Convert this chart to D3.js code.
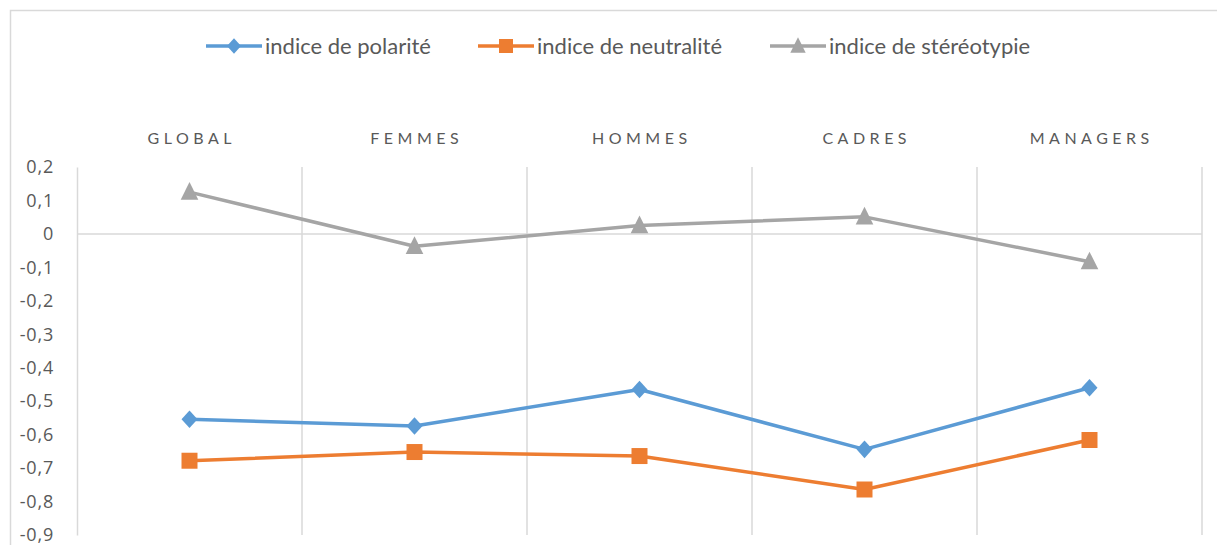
<!DOCTYPE html>
<html>
<head>
<meta charset="utf-8">
<script src="https://cdn.jsdelivr.net/npm/d3@7"></script>
<style>
  html, body { margin: 0; padding: 0; background: #fff; }
  svg { display: block; }
</style>
</head>
<body>
<div id="chart"></div>
<script>
// données
const categories = ['GLOBAL', 'FEMMES', 'HOMMES', 'CADRES', 'MANAGERS'];
const seriesNames = ['indice de polarité', 'indice de neutralité', 'indice de stéréotypie'];
const polarite = [-0.554, -0.574, -0.465, -0.644, -0.460];
const neutralite = [-0.678, -0.652, -0.664, -0.764, -0.616];
const stereotypie = [0.125, -0.037, 0.025, 0.051, -0.083];
const yTicks = [0.2, 0.1, 0, -0.1, -0.2, -0.3, -0.4, -0.5, -0.6, -0.7, -0.8, -0.9];

const width = 1217, height = 545;
const plot = { left: 77, right: 1202, top: 167, bottom: 535 };
const colors = ['#5b9bd5', '#ed7d31', '#a5a5a5'];
const shapes = ['diamond', 'square', 'triangle'];
const fontFamily = 'Lato, "Noto Sans", sans-serif';

const series = [polarite, neutralite, stereotypie].map((values, i) => ({
  name: seriesNames[i],
  values: values,
  color: colors[i],
  shape: shapes[i]
}));

const svg = d3.select('#chart').append('svg')
  .attr('width', width)
  .attr('height', height);

// cadre du graphique
svg.append('rect')
  .attr('x', 10.5).attr('y', 10.5)
  .attr('width', width + 20).attr('height', height + 20)
  .attr('fill', 'none')
  .attr('stroke', '#d9d9d9')
  .attr('stroke-width', 1.5);

const x = d3.scaleBand()
  .domain(categories)
  .range([plot.left, plot.right]);

const y = d3.scaleLinear()
  .domain([-0.9, 0.2])
  .range([plot.bottom, plot.top]);

const fr = d3.formatLocale({ decimal: ',', thousands: ' ', grouping: [3], currency: ['', ' €'], minus: '-' });
const fmt = fr.format('.1f');
const tickFmt = d => d === 0 ? '0' : fmt(d);

// axe vertical + graduations
const yAxis = svg.append('g')
  .attr('transform', `translate(${plot.left},0)`)
  .call(d3.axisLeft(y).tickValues(yTicks).tickFormat(tickFmt).tickSize(0).tickPadding(23));
yAxis.select('.domain').attr('stroke', '#d9d9d9').attr('stroke-width', 1.5);
yAxis.selectAll('text')
  .attr('fill', '#595959')
  .style('font-family', '"Open Sans", sans-serif')
  .style('font-size', '18px')
  .style('letter-spacing', '0.8px');

// quadrillage vertical (limites des catégories)
svg.append('g')
  .selectAll('line')
  .data(categories)
  .join('line')
  .attr('x1', d => x(d) + x.bandwidth())
  .attr('x2', d => x(d) + x.bandwidth())
  .attr('y1', plot.top)
  .attr('y2', plot.bottom)
  .attr('stroke', '#d9d9d9')
  .attr('stroke-width', 1.5);

// axe des catégories à 0
svg.append('line')
  .attr('x1', plot.left).attr('x2', plot.right)
  .attr('y1', y(0)).attr('y2', y(0))
  .attr('stroke', '#d9d9d9')
  .attr('stroke-width', 1.5);

// étiquettes des catégories en haut
svg.append('g')
  .selectAll('text')
  .data(categories)
  .join('text')
  .attr('x', d => x(d) + x.bandwidth() / 2 + 2.25)
  .attr('y', 144)
  .attr('text-anchor', 'middle')
  .attr('fill', '#595959')
  .style('font-family', fontFamily)
  .style('font-size', '16px')
  .style('letter-spacing', '4.5px')
  .text(d => d);

function markerPath(shape, s) {
  if (shape === 'diamond') {
    return `M0,${-s * 1.1}L${s},0L0,${s * 1.1}L${-s},0Z`;
  }
  if (shape === 'square') {
    return `M${-s},${-s}H${s}V${s}H${-s}Z`;
  }
  // triangle
  return `M0,${-s * 1.25}L${s * 1.1},${s * 0.95}L${-s * 1.1},${s * 0.95}Z`;
}

const line = d3.line()
  .x((d, i) => x(categories[i]) + x.bandwidth() / 2)
  .y(d => y(d));

const seriesGroup = svg.append('g')
  .selectAll('g')
  .data(series)
  .join('g');

seriesGroup.append('path')
  .attr('d', d => line(d.values))
  .attr('fill', 'none')
  .attr('stroke', d => d.color)
  .attr('stroke-width', 3.5)
  .attr('stroke-linejoin', 'round');

seriesGroup.each(function (s) {
  d3.select(this).selectAll('path.marker')
    .data(s.values)
    .join('path')
    .attr('class', 'marker')
    .attr('transform', (d, i) => `translate(${x(categories[i]) + x.bandwidth() / 2},${y(d)})`)
    .attr('d', markerPath(s.shape, 8))
    .attr('fill', s.color);
});

// légende
const legendX = [206, 478, 770];
const legend = svg.append('g')
  .selectAll('g')
  .data(series)
  .join('g')
  .attr('transform', (d, i) => `translate(${legendX[i]},46)`);

legend.append('line')
  .attr('x1', 0).attr('x2', 56)
  .attr('y1', 0).attr('y2', 0)
  .attr('stroke', d => d.color)
  .attr('stroke-width', 3.5);

legend.append('path')
  .attr('transform', 'translate(28,0)')
  .attr('d', d => markerPath(d.shape, 7))
  .attr('fill', d => d.color);

legend.append('text')
  .attr('x', 59)
  .attr('y', 0)
  .attr('dy', '0.35em')
  .attr('fill', '#595959')
  .style('font-family', fontFamily)
  .style('font-size', '22px')
  .text(d => d.name);
</script>
</body>
</html>
